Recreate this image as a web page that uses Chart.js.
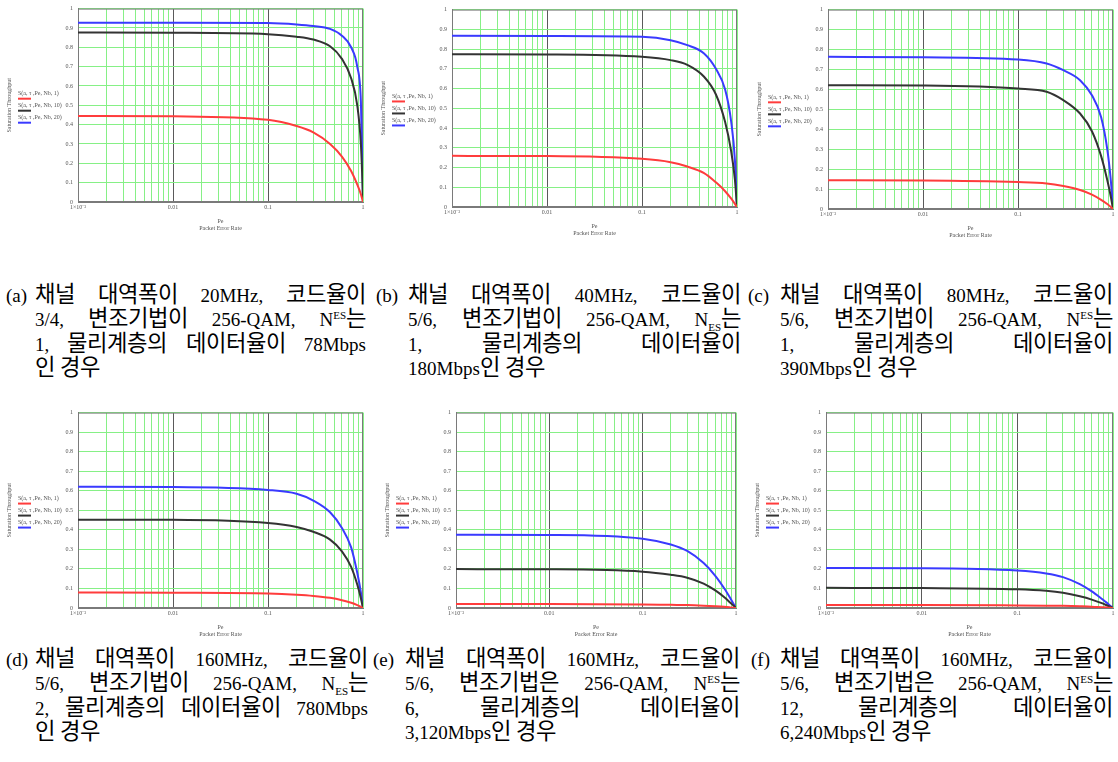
<!DOCTYPE html>
<html>
<head>
<meta charset="utf-8">
<script src="https://cdn.jsdelivr.net/npm/chart.js@4.4.1/dist/chart.umd.min.js"></script>
<style>
  @font-face { font-family: "KRwide"; src: local("Noto Sans CJK KR"), local("NotoSansCJKkr-Regular"), local("Noto Sans CJK KR Regular"); size-adjust: 117%; unicode-range: U+AC00-D7A3, U+1100-11FF, U+3130-318F; }
  body { margin: 0; background: #fff; width: 1118px; height: 762px; position: relative; overflow: hidden; }
  canvas { position: absolute; }
  .lbl, .body { position: absolute; font-family: "Liberation Serif", "KRwide", "Noto Sans CJK KR", serif; font-size: 19px; line-height: 24.4px; color: #000; }
  .body .ln { text-align: justify; text-align-last: justify; }
  .body .ln.last { text-align-last: left; }
  .body sup, .body sub { font-size: 11px; line-height: 0; }
</style>
</head>
<body>
<canvas id="chart-a"></canvas>
<canvas id="chart-b"></canvas>
<canvas id="chart-c"></canvas>
<canvas id="chart-d"></canvas>
<canvas id="chart-e"></canvas>
<canvas id="chart-f"></canvas>

<div class="lbl" style="left:6px;top:284px">(a)</div>
<div class="body" style="left:35px;top:284px;width:331px">
  <div class="ln">채널 대역폭이 20MHz, 코드율이</div>
  <div class="ln">3/4, 변조기법이 256-QAM, N<sup>ES</sup>는</div>
  <div class="ln">1, 물리계층의 데이터율이 78Mbps</div>
  <div class="ln last">인 경우</div>
</div>

<div class="lbl" style="left:376px;top:284px">(b)</div>
<div class="body" style="left:408px;top:284px;width:333px">
  <div class="ln">채널 대역폭이 40MHz, 코드율이</div>
  <div class="ln">5/6, 변조기법이 256-QAM, N<sub>ES</sub>는</div>
  <div class="ln">1, 물리계층의 데이터율이</div>
  <div class="ln last">180Mbps인 경우</div>
</div>

<div class="lbl" style="left:748px;top:284px">(c)</div>
<div class="body" style="left:780px;top:284px;width:333px">
  <div class="ln">채널 대역폭이 80MHz, 코드율이</div>
  <div class="ln">5/6, 변조기법이 256-QAM, N<sup>ES</sup>는</div>
  <div class="ln">1, 물리계층의 데이터율이</div>
  <div class="ln last">390Mbps인 경우</div>
</div>

<div class="lbl" style="left:6px;top:648px">(d)</div>
<div class="body" style="left:35px;top:648px;width:333px">
  <div class="ln">채널 대역폭이 160MHz, 코드율이</div>
  <div class="ln">5/6, 변조기법이 256-QAM, N<sub>ES</sub>는</div>
  <div class="ln">2, 물리계층의 데이터율이 780Mbps</div>
  <div class="ln last">인 경우</div>
</div>

<div class="lbl" style="left:373px;top:648px">(e)</div>
<div class="body" style="left:405px;top:648px;width:335px">
  <div class="ln">채널 대역폭이 160MHz, 코드율이</div>
  <div class="ln">5/6, 변조기법은 256-QAM, N<sup>ES</sup>는</div>
  <div class="ln">6, 물리계층의 데이터율이</div>
  <div class="ln last">3,120Mbps인 경우</div>
</div>

<div class="lbl" style="left:751px;top:648px">(f)</div>
<div class="body" style="left:780px;top:648px;width:333px">
  <div class="ln">채널 대역폭이 160MHz, 코드율이</div>
  <div class="ln">5/6, 변조기법은 256-QAM, N<sup>ES</sup>는</div>
  <div class="ln">12, 물리계층의 데이터율이</div>
  <div class="ln last">6,240Mbps인 경우</div>
</div>

<script>
// Packet error rate sample points (x axis, log)
const peValues = [0.001, 0.01, 0.1, 0.2, 0.3, 0.45, 0.6, 0.75, 0.87, 0.95, 0.99, 1];

// x grid lines: 1..9 per decade
const xGridTicks = [
    0.001, 0.002, 0.003, 0.004, 0.005, 0.006, 0.007, 0.008, 0.009,
    0.01, 0.02, 0.03, 0.04, 0.05, 0.06, 0.07, 0.08, 0.09,
    0.1, 0.2, 0.3, 0.4, 0.5, 0.6, 0.7, 0.8, 0.9, 1
];
const xMajorLines = [0.01, 0.1];
const xTickText = { 0.001: '1×10⁻³', 0.01: '0.01', 0.1: '0.1', 1: '1' };

const seriesLabels = ['S(a, τ ,Pe, Nb, 1)', 'S(a, τ ,Pe, Nb, 10)', 'S(a, τ ,Pe, Nb, 20)'];

// (a) 20MHz
const satA1  = [0.445, 0.443, 0.425, 0.393, 0.360, 0.300, 0.235, 0.160, 0.090, 0.040, 0.008, 0];
const satA10 = [0.876, 0.875, 0.868, 0.855, 0.840, 0.805, 0.740, 0.640, 0.500, 0.300, 0.080, 0];
const satA20 = [0.927, 0.927, 0.925, 0.918, 0.910, 0.895, 0.860, 0.800, 0.700, 0.520, 0.150, 0];
// (b) 40MHz
const satB1  = [0.259, 0.258, 0.244, 0.227, 0.205, 0.172, 0.125, 0.080, 0.042, 0.016, 0.003, 0];
const satB10 = [0.774, 0.773, 0.761, 0.744, 0.720, 0.660, 0.570, 0.430, 0.280, 0.140, 0.030, 0];
const satB20 = [0.867, 0.866, 0.862, 0.845, 0.820, 0.778, 0.700, 0.595, 0.430, 0.240, 0.050, 0];
// (c) 80MHz
const satC1  = [0.144, 0.143, 0.135, 0.128, 0.115, 0.095, 0.072, 0.046, 0.025, 0.010, 0.002, 0];
const satC10 = [0.621, 0.619, 0.604, 0.588, 0.546, 0.479, 0.390, 0.265, 0.145, 0.060, 0.012, 0];
const satC20 = [0.763, 0.761, 0.750, 0.730, 0.696, 0.646, 0.570, 0.460, 0.300, 0.140, 0.030, 0];
// (d) 160MHz, N=2
const satD1  = [0.079, 0.078, 0.074, 0.068, 0.062, 0.052, 0.040, 0.027, 0.015, 0.006, 0.001, 0];
const satD10 = [0.452, 0.451, 0.435, 0.415, 0.390, 0.350, 0.290, 0.210, 0.120, 0.050, 0.010, 0];
const satD20 = [0.620, 0.619, 0.604, 0.585, 0.550, 0.490, 0.410, 0.310, 0.180, 0.080, 0.015, 0];
// (e) 160MHz, N=6
const satE1  = [0.020, 0.020, 0.018, 0.016, 0.015, 0.012, 0.009, 0.006, 0.003, 0.001, 0, 0];
const satE10 = [0.199, 0.198, 0.186, 0.170, 0.155, 0.125, 0.090, 0.055, 0.027, 0.010, 0.002, 0];
const satE20 = [0.375, 0.374, 0.355, 0.325, 0.292, 0.230, 0.165, 0.100, 0.050, 0.018, 0.003, 0];
// (f) 160MHz, N=12
const satF1  = [0.015, 0.015, 0.013, 0.012, 0.011, 0.009, 0.007, 0.004, 0.002, 0.001, 0, 0];
const satF10 = [0.103, 0.102, 0.096, 0.088, 0.078, 0.060, 0.043, 0.026, 0.013, 0.005, 0.001, 0];
const satF20 = [0.205, 0.204, 0.192, 0.177, 0.158, 0.122, 0.085, 0.050, 0.025, 0.009, 0.002, 0];

const lineColors = ['#ff3c3c', '#333333', '#3a3aff'];
const tinyFont = { family: 'Liberation Serif', size: 6 };
const gridGreen = '#86f086';

// border of the plot + small legend on the left
const frameAndKey = {
    id: 'frameAndKey',
    beforeDatasetsDraw(chart) {
        const { ctx, chartArea: a } = chart;
        ctx.save();
        ctx.strokeStyle = '#7a7a7a';
        ctx.lineWidth = 1;
        ctx.strokeRect(a.left + 0.5, a.top + 0.5, a.width - 1, a.height - 1);
        ctx.restore();
    },
    afterDraw(chart) {
        const { ctx, chartArea: a } = chart;
        const x0 = a.left - 60;
        const y0 = a.top + a.height * 0.44;
        ctx.save();
        ctx.font = '6px "Liberation Serif"';
        ctx.textBaseline = 'middle';
        chart.data.datasets.forEach((ds, i) => {
            const y = y0 + i * 12;
            ctx.fillStyle = '#555';
            ctx.fillText(ds.label, x0, y);
            ctx.strokeStyle = ds.borderColor;
            ctx.lineWidth = 2;
            ctx.beginPath();
            ctx.moveTo(x0, y + 5);
            ctx.lineTo(x0 + 13, y + 5);
            ctx.stroke();
        });
        ctx.restore();
    }
};

function makeChart(id, box, s1, s10, s20) {
    const cv = document.getElementById(id);
    cv.width = box.w; cv.height = box.h;
    cv.style.left = box.left + 'px';
    cv.style.top = box.top + 'px';

    const series = [s1, s10, s20];
    new Chart(cv, {
        type: 'line',
        data: {
            datasets: series.map((vals, i) => ({
                label: seriesLabels[i],
                data: peValues.map((x, k) => ({ x, y: vals[k] })),
                borderColor: lineColors[i],
                borderWidth: 2,
                pointRadius: 0,
                cubicInterpolationMode: 'monotone',
                fill: false
            }))
        },
        options: {
            responsive: false,
            animation: false,
            layout: { padding: { top: 7, right: 5, left: 0, bottom: 0 } },
            plugins: { legend: { display: false }, tooltip: { enabled: false } },
            scales: {
                x: {
                    type: 'logarithmic', min: 0.001, max: 1,
                    afterBuildTicks: s => { s.ticks = xGridTicks.map(v => ({ value: v })); },
                    afterFit: s => { s.height = 30; },
                    grid: { color: c => (c.tick && xMajorLines.includes(c.tick.value)) ? '#5a5a5a' : gridGreen, drawTicks: false },
                    border: { color: '#7a7a7a' },
                    ticks: { autoSkip: false, maxRotation: 0, padding: 2, font: tinyFont, color: '#555',
                             callback: v => xTickText[v] || '' },
                    title: { display: true, text: ['Pe', 'Packet Error Rate'], font: tinyFont, color: '#555', padding: { top: 3, bottom: 0 } }
                },
                y: {
                    min: 0, max: 1,
                    afterFit: s => { s.width = 78; },
                    grid: { color: gridGreen, drawTicks: false },
                    border: { color: '#7a7a7a' },
                    ticks: { stepSize: 0.1, padding: 5, font: tinyFont, color: '#555', callback: v => String(+v.toFixed(1)) },
                    title: { display: true, text: 'Saturation Throughput', font: tinyFont, color: '#555', padding: { top: 6, bottom: 6 } }
                }
            }
        },
        plugins: [frameAndKey]
    });
}

makeChart('chart-a', { left: 0,   top: 0,   w: 368, h: 232 }, satA1, satA10, satA20);
makeChart('chart-b', { left: 374, top: 1,   w: 368, h: 236 }, satB1, satB10, satB20);
makeChart('chart-c', { left: 750, top: 1,   w: 368, h: 238 }, satC1, satC10, satC20);
makeChart('chart-d', { left: 0,   top: 404, w: 368, h: 234 }, satD1, satD10, satD20);
makeChart('chart-e', { left: 378, top: 404, w: 363, h: 234 }, satE1, satE10, satE20);
makeChart('chart-f', { left: 748, top: 404, w: 370, h: 234 }, satF1, satF10, satF20);
</script>
</body>
</html>
